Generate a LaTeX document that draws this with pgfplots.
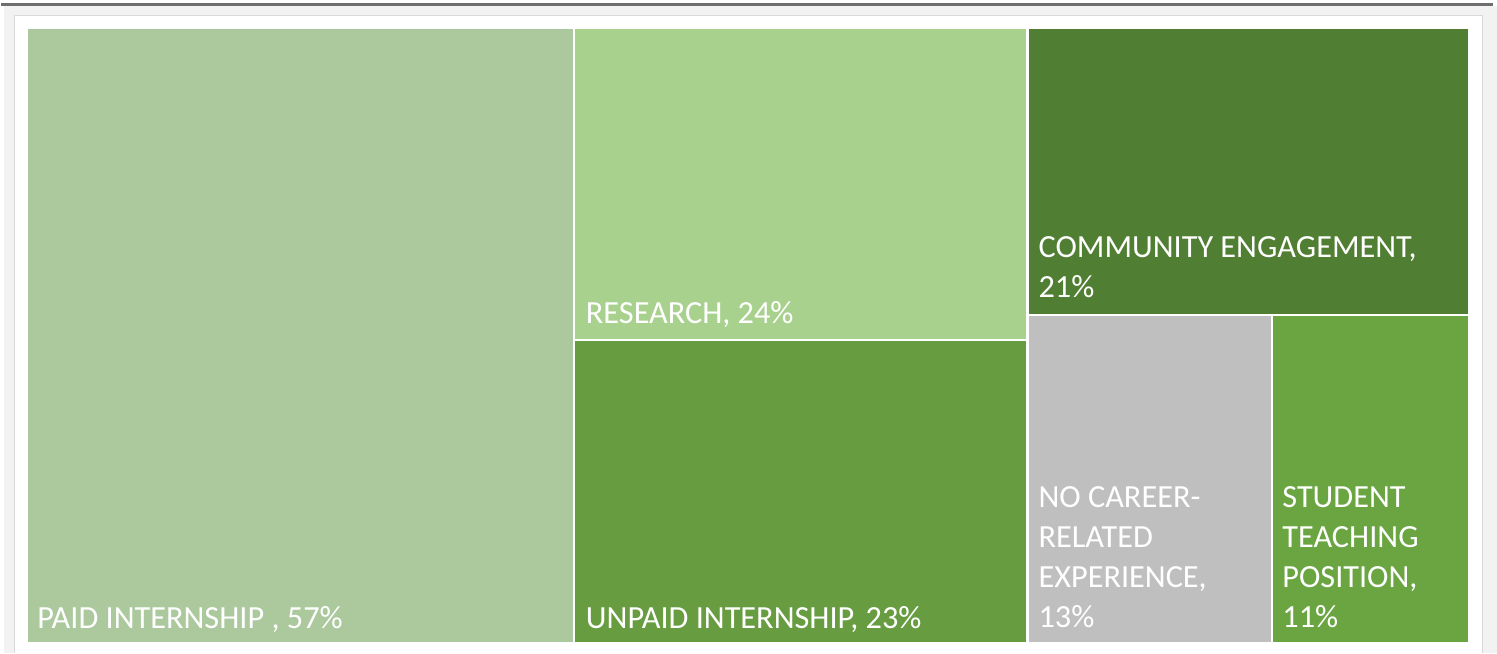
\documentclass[border=0pt]{standalone}
\usepackage{fontspec}
\setmainfont{Carlito}
\usepackage{pgfplots}
\pgfplotsset{compat=1.18}
\definecolor{cPaid}{RGB}{171,201,157}
\definecolor{cResearch}{RGB}{169,209,142}
\definecolor{cUnpaid}{RGB}{103,157,64}
\definecolor{cCommunity}{RGB}{80,126,50}
\definecolor{cNone}{RGB}{191,191,191}
\definecolor{cStudent}{RGB}{106,165,66}
\definecolor{cFrame}{RGB}{242,242,242}
\definecolor{cBorder}{RGB}{217,217,217}
\definecolor{cTop}{RGB}{110,110,110}
\tikzset{lbl/.style={anchor=south west, inner sep=0pt, text depth=0pt, align=left,
    text=white, font={\fontsize{32.3bp}{40bp}\selectfont}}}
\begin{document}
\begin{tikzpicture}
\begin{axis}[x=1bp, y=1bp, xmin=0, xmax=1497, ymin=0, ymax=654,
  y dir=reverse, hide axis, clip=false]
% background frame
\fill[white] (axis cs:0,0) rectangle (axis cs:1497,654);
\fill[cFrame] (axis cs:3,6) rectangle (axis cs:1497,654);
\fill[white] (axis cs:13,16) rectangle (axis cs:1482,654);
\draw[cBorder, line width=1bp] (axis cs:13,654) -- (axis cs:13,16) -- (axis cs:1482,16) -- (axis cs:1482,654);
\draw[cTop, line width=2.5bp] (axis cs:0,4.5) -- (axis cs:1493,4.5);
% tiles (area proportional to share: 57, 24, 23, 21, 13, 11)
\addplot[fill=cPaid, draw=none] coordinates {(27,29) (572,29) (572,643) (27,643)} --cycle;
\addplot[fill=cResearch, draw=none] coordinates {(574,29) (1026,29) (1026,339) (574,339)} --cycle;
\addplot[fill=cUnpaid, draw=none] coordinates {(574,341) (1026,341) (1026,643) (574,643)} --cycle;
\addplot[fill=cCommunity, draw=none] coordinates {(1029,29) (1468,29) (1468,314) (1029,314)} --cycle;
\addplot[fill=cNone, draw=none] coordinates {(1029,316) (1271,316) (1271,643) (1029,643)} --cycle;
\addplot[fill=cStudent, draw=none] coordinates {(1273,316) (1468,316) (1468,643) (1273,643)} --cycle;
% labels
\node[lbl] at (axis cs:36,629) {PAID INTERNSHIP , 57\%};
\node[lbl] at (axis cs:585,324) {RESEARCH, 24\%};
\node[lbl] at (axis cs:585,629) {UNPAID INTERNSHIP, 23\%};
\node[lbl] at (axis cs:1038,298) {COMMUNITY ENGAGEMENT,\\21\%};
\node[lbl] at (axis cs:1038,628) {NO CAREER-\\RELATED\\EXPERIENCE,\\13\%};
\node[lbl] at (axis cs:1282,628) {STUDENT\\TEACHING\\POSITION,\\11\%};
\end{axis}
\end{tikzpicture}
\end{document}
